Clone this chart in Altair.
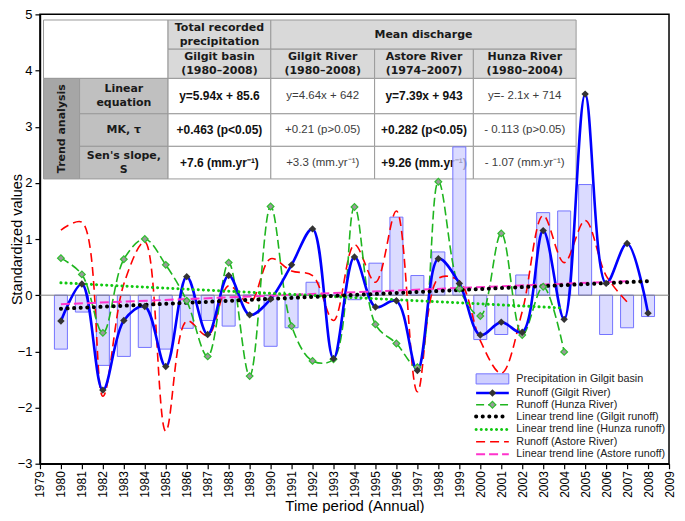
import altair as alt
import pandas as pd

# ---------------- data ----------------
years_precip = list(range(1980, 2009))
precip = [-0.96, -0.30, -1.25, -1.09, -0.93, -0.96, -0.59, -0.45, -0.55, 0.00,
          -0.91, -0.58, 0.23, 0.00, -0.08, 0.57, 1.39, 0.35, 0.77, 2.64,
          -0.79, -0.70, 0.36, 1.47, 1.50, 1.97, -0.70, -0.58, -0.38]

years_gilgit = list(range(1980, 2009))
gilgit = [-0.46, 0.20, -1.69, -0.45, -0.20, -1.27, 0.33, -0.70, 0.35, -0.35,
          -0.07, 0.54, 1.18, -1.13, 0.68, -0.21, -0.10, -1.34, 0.65, 0.21,
          -0.71, -0.48, -0.66, 1.15, -0.43, 3.58, 0.21, 0.92, -0.32]

years_hunza = list(range(1980, 2005))
hunza = [0.66, 0.37, -0.67, 0.64, 1.00, 0.54, -0.10, -1.09, 0.58, -1.44,
         1.58, -0.55, -1.17, -1.14, 1.57, -0.52, -0.86, -1.28, 2.02, 0.12,
         -0.37, 1.10, -0.71, 0.15, -1.01]

years_astore = list(range(1980, 2008))
astore = [1.16, 1.30, -1.80, 0.20, 0.95, -2.42, -0.46, -0.72, 0.17, -0.14,
          0.65, 0.43, 0.35, -0.45, 0.90, 0.23, 1.50, -1.72, 0.30, 0.25,
          -0.81, -1.39, -0.29, 1.42, 0.58, 1.33, 0.35, -0.12]

trend_years_gilgit = [1980, 2008]
trend_gilgit = [-0.24, 0.25]
trend_years_hunza = [1980, 2004]
trend_hunza = [0.22, -0.23]
trend_years_astore = [1980, 2007]
trend_astore = [-0.16, 0.25]

x_ticks = list(range(1979, 2010))
y_ticks = list(range(-3, 6))

legend_labels = ["Precipitation in Gilgit basin", "Runoff (Gilgit River)",
                 "Runoff (Hunza River)", "Linear trend line (Gilgit runoff)",
                 "Linear trend line (Hunza runoff)", "Runoff (Astore River)",
                 "Linear trend line (Astore runoff)"]

# table text
tbl_head1 = ["Total recorded\nprecipitation", "Mean discharge"]
tbl_head2 = ["Gilgit basin\n(1980–2008)", "Gilgit River\n(1980–2008)",
             "Astore River\n(1974–2007)", "Hunza River\n(1980–2004)"]
tbl_rowlabels = ["Linear\nequation", "MK, τ", "Sen's slope,\nS"]
tbl_values = [
    ["y=5.94x + 85.6", "y=4.64x + 642", "y=7.39x + 943", "y=- 2.1x + 714"],
    ["+0.463 (p<0.05)", "+0.21 (p>0.05)", "+0.282 (p<0.05)", "- 0.113 (p>0.05)"],
    ["+7.6 (mm.yr⁻¹)", "+3.3 (mm.yr⁻¹)", "+9.26 (mm.yr⁻¹)", "- 1.07 (mm.yr⁻¹)"],
]
tbl_bold_cols = [True, False, True, False]

# ---------------- layout helpers ----------------
FONT = "Liberation Sans"
W, H = 630, 450
xs = alt.Scale(domain=[1979, 2009], nice=False, zero=False)
ys = alt.Scale(domain=[-3, 5], nice=False, zero=False)

AX = alt.Axis(values=x_ticks, format="d", labelAngle=270, labelAlign="right",
              labelBaseline="middle", labelPadding=2, tickSize=5,
              labelFontSize=12, labelFont=FONT, labelColor="#000000",
              titleFont=FONT, titleFontSize=15, titleFontWeight="normal",
              titleColor="#000000", titlePadding=1, grid=False,
              domainColor="#000000", domainWidth=1.5, tickColor="#000000",
              tickWidth=1.2, labelOverlap=False, labelFlush=False)
AY = alt.Axis(values=y_ticks, format="d", labelPadding=3, tickSize=5,
              labelFontSize=13, labelFont=FONT, labelColor="#000000",
              titleFont=FONT, titleFontSize=14.5, titleFontWeight="normal",
              titleColor="#000000", titleX=-15, titleY=H / 2,
              titleAngle=270, titleAlign="center", titleBaseline="bottom",
              grid=False, domainColor="#000000", domainWidth=1.5,
              tickColor="#000000", tickWidth=1.2, labelFlush=False)
XT = "Time period (Annual)"
YT = "Standardized values"


def X(f):
    return alt.X(f, scale=xs, axis=AX, title=XT)


def Y(f):
    return alt.Y(f, scale=ys, axis=AY, title=YT)


# table grid (in axis units)
col_edges = [1979.17, 1980.89, 1985.11, 1990.01, 1994.96, 1999.67, 2004.57]
row_edges = [4.90, 4.38, 3.86, 3.23, 2.65, 2.07]

HEAD_FILL = "#d9d9d9"
LABEL_FILL = "#c0c0c0"
TREND_FILL = "#a6a6a6"

cells = []
texts_head, texts_bold, texts_norm = [], [], []


def cell(c0, c1, r0, r1, fill):
    cells.append(dict(x1=col_edges[c0], x2=col_edges[c1],
                      y1=row_edges[r0], y2=row_edges[r1], fill=fill))
    return ((col_edges[c0] + col_edges[c1]) / 2, (row_edges[r0] + row_edges[r1]) / 2)


cell(0, 2, 0, 2, "#ffffff")
cx, cy = cell(2, 3, 0, 1, HEAD_FILL)
texts_head.append(dict(x=cx, y=cy, t=tbl_head1[0]))
cx, cy = cell(3, 6, 0, 1, HEAD_FILL)
texts_head.append(dict(x=cx, y=cy, t=tbl_head1[1]))
for i, t in enumerate(tbl_head2):
    cx, cy = cell(2 + i, 3 + i, 1, 2, HEAD_FILL)
    texts_head.append(dict(x=cx, y=cy, t=t))
trend_x, trend_y = cell(0, 1, 2, 5, TREND_FILL)
for r, t in enumerate(tbl_rowlabels):
    cx, cy = cell(1, 2, 2 + r, 3 + r, LABEL_FILL)
    texts_head.append(dict(x=cx, y=cy, t=t))
for r, row in enumerate(tbl_values):
    for c, t in enumerate(row):
        cx, cy = cell(2 + c, 3 + c, 2 + r, 3 + r, "#ffffff")
        (texts_bold if tbl_bold_cols[c] else texts_norm).append(dict(x=cx, y=cy, t=t))

cells_df = pd.DataFrame(cells)

table_rects = alt.Chart(cells_df).mark_rect(stroke="#9a9a9a", strokeWidth=1).encode(
    x=X("x1:Q"), x2="x2:Q", y=Y("y1:Q"), y2="y2:Q",
    fill=alt.Fill("fill:N", scale=None),
)


def text_layers(rows, font, size, weight, color, angle=0):
    lh = size + 3
    out = []
    for nlines in (1, 2):
        sub = [r for r in rows if r["t"].count("\n") + 1 == nlines]
        if not sub:
            continue
        out.append(alt.Chart(pd.DataFrame(sub)).mark_text(
            font=font, fontSize=size, fontWeight=weight, color=color,
            lineBreak="\n", lineHeight=lh, align="center", baseline="middle",
            angle=angle, dy=-(nlines - 1) * lh / 2,
        ).encode(x=X("x:Q"), y=Y("y:Q"), text="t:N"))
    return out


t_head = text_layers(texts_head, "DejaVu Sans", 11, "bold", "#1a1a1a")
t_bold = text_layers(texts_bold, FONT, 12, "bold", "#111111")
t_norm = text_layers(texts_norm, FONT, 11.5, "normal", "#3c3c3c")
t_trend = text_layers([dict(x=trend_x, y=trend_y, t="Trend analysis")],
                      "DejaVu Sans", 11, "bold", "#1a1a1a", angle=270)

# ---------------- data layers ----------------
bar_df = pd.DataFrame({"year": years_precip, "val": precip})
bars = alt.Chart(bar_df).transform_calculate(
    bx1="datum.year - 0.31", bx2="datum.year + 0.31", zero="0"
).mark_rect(fill="#cfcfff", fillOpacity=0.75, stroke="#7373ff", strokeWidth=1).encode(
    x=X("bx1:Q"), x2="bx2:Q", y=Y("val:Q"), y2="zero:Q",
)

zero_line = alt.Chart(pd.DataFrame({"z": [0]})).mark_rule(
    color="#808080", strokeWidth=1
).encode(y=Y("z:Q"))


def series(years, vals):
    return pd.DataFrame({"year": years, "val": vals})


def enc(ch):
    return ch.encode(x=X("year:Q"), y=Y("val:Q"))


astore_line = enc(alt.Chart(series(years_astore, astore)).mark_line(
    interpolate="catmull-rom", color="#ff0000", strokeWidth=1.6, strokeDash=[9, 5]))
hunza_line = enc(alt.Chart(series(years_hunza, hunza)).mark_line(
    interpolate="catmull-rom", color="#1fb51f", strokeWidth=1.6, strokeDash=[9, 4]))
hunza_pts = enc(alt.Chart(series(years_hunza, hunza)).mark_point(
    shape="diamond", filled=True, size=45, fill="#9a9a9a", stroke="#2fbf2f",
    strokeWidth=1.2, opacity=1))
gilgit_line = enc(alt.Chart(series(years_gilgit, gilgit)).mark_line(
    interpolate="catmull-rom", color="#0000ff", strokeWidth=2.6))
gilgit_pts = enc(alt.Chart(series(years_gilgit, gilgit)).mark_point(
    shape="diamond", filled=True, size=55, color="#333333", opacity=1))

tr_g = enc(alt.Chart(series(trend_years_gilgit, trend_gilgit)).mark_line(
    color="#000000", strokeWidth=4, strokeDash=[0.1, 6.5], strokeCap="round"))
tr_h = enc(alt.Chart(series(trend_years_hunza, trend_hunza)).mark_line(
    color="#10c810", strokeWidth=3, strokeDash=[0.1, 5], strokeCap="round"))
tr_a = enc(alt.Chart(series(trend_years_astore, trend_astore)).mark_line(
    color="#ff33cc", strokeWidth=2, strokeDash=[9, 4]))

# ---------------- legend (inside plot) ----------------
leg_rows = [-1.49, -1.74, -1.95, -2.16, -2.39, -2.61, -2.83]
lx1, lx2, ltx = 1999.80, 2001.36, 2001.72
lmid = (lx1 + lx2) / 2


def leg_rule(i, **kw):
    return alt.Chart(pd.DataFrame({"a": [lx1], "b": [lx2], "y": [leg_rows[i]]})).mark_rule(**kw).encode(
        x=X("a:Q"), x2="b:Q", y=Y("y:Q"))


def leg_pt(i, **kw):
    return alt.Chart(pd.DataFrame({"a": [lmid], "y": [leg_rows[i]]})).mark_point(**kw).encode(
        x=X("a:Q"), y=Y("y:Q"))


leg_box = alt.Chart(pd.DataFrame({"a": [lx1], "b": [lx2], "y1": [leg_rows[0] + 0.09],
                                  "y2": [leg_rows[0] - 0.09]})).mark_rect(
    fill="#cfcfff", stroke="#7373ff", strokeWidth=1).encode(
    x=X("a:Q"), x2="b:Q", y=Y("y1:Q"), y2="y2:Q")

leg_layers = [
    leg_box,
    leg_rule(1, color="#0000ff", strokeWidth=2.6),
    leg_pt(1, shape="diamond", filled=True, size=55, color="#333333", opacity=1),
    leg_rule(2, color="#1fb51f", strokeWidth=1.6, strokeDash=[8, 4]),
    leg_pt(2, shape="diamond", filled=True, size=45, fill="#9a9a9a", stroke="#2fbf2f",
           strokeWidth=1.2, opacity=1),
    leg_rule(3, color="#000000", strokeWidth=4, strokeDash=[0.1, 6.5], strokeCap="round"),
    leg_rule(4, color="#10c810", strokeWidth=3, strokeDash=[0.1, 5], strokeCap="round"),
    leg_rule(5, color="#ff0000", strokeWidth=1.6, strokeDash=[9, 5]),
    leg_rule(6, color="#ff33cc", strokeWidth=2, strokeDash=[9, 4]),
]

leg_text = alt.Chart(pd.DataFrame({"x": [ltx] * 7, "y": leg_rows, "t": legend_labels})).mark_text(
    font=FONT, fontSize=10.8, color="#222222", align="left", baseline="middle"
).encode(x=X("x:Q"), y=Y("y:Q"), text="t:N")

chart = alt.layer(
    table_rects, *t_head, *t_bold, *t_norm, *t_trend,
    bars, zero_line,
    astore_line, hunza_line, gilgit_line,
    tr_a, tr_h, tr_g,
    hunza_pts, gilgit_pts,
    *leg_layers, leg_text,
).properties(
    width=W, height=H,
    autosize=alt.AutoSizeParams(type="none"),
    padding={"left": 32, "top": 6, "right": 8, "bottom": 49},
).configure(background="#ffffff").configure_view(stroke="#000000", strokeWidth=1.5)

chart.save("out.html", embed_options={"renderer": "svg", "actions": False})
